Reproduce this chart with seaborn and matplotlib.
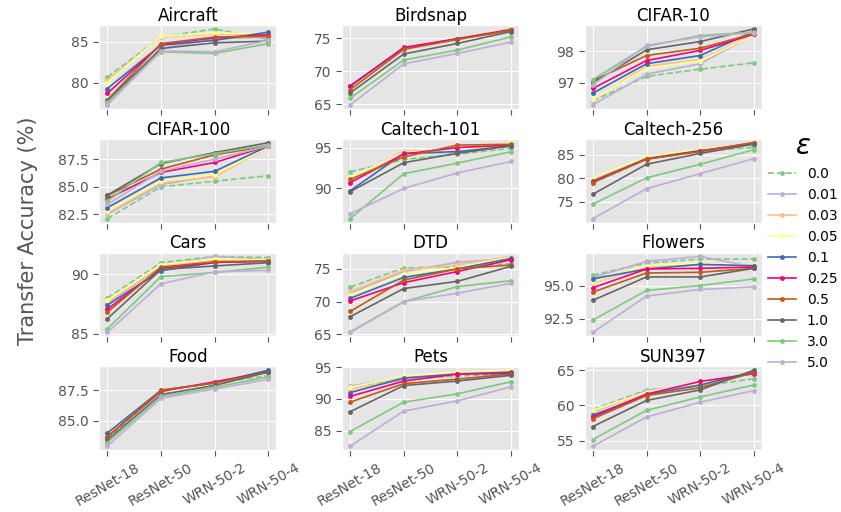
import matplotlib
matplotlib.use('Agg')
import matplotlib.pyplot as plt
from matplotlib.ticker import MaxNLocator
import seaborn as sns

# architectures on the x axis
models = ['ResNet-18', 'ResNet-50', 'WRN-50-2', 'WRN-50-4']

# robustness levels (one line each)
eps_labels = ['0.0', '0.01', '0.03', '0.05', '0.1', '0.25', '0.5', '1.0', '3.0', '5.0']
eps_colors = ['#7fc97f', '#beaed4', '#fdc086', '#ffff99', '#386cb0',
              '#f0027f', '#bf5b17', '#666666', '#7fc97f', '#beaed4']

datasets = ['Aircraft', 'Birdsnap', 'CIFAR-10', 'CIFAR-100', 'Caltech-101', 'Caltech-256',
            'Cars', 'DTD', 'Flowers', 'Food', 'Pets', 'SUN397']

# transfer accuracy, rows follow eps_labels, columns follow models
aircraft = [[80.7, 85.6, 86.6, 85.3], [77.4, 84.2, 85.4, 85.6], [80.3, 85.6, 86.0, 85.9],
            [80.0, 85.7, 86.1, 86.0], [79.3, 84.6, 85.2, 86.2], [78.7, 84.7, 85.5, 85.9],
            [77.9, 84.8, 85.6, 85.7], [77.8, 84.2, 84.9, 85.1], [77.6, 83.8, 83.6, 84.8],
            [77.3, 83.9, 83.8, 85.2]]
birdsnap = [[67.4, 73.3, 74.8, 76.2], [67.6, 73.4, 74.9, 76.3], [67.5, 73.3, 74.9, 76.4],
            [67.5, 73.3, 74.8, 76.3], [67.8, 73.5, 74.9, 76.2], [67.7, 73.6, 74.9, 76.3],
            [67.2, 73.3, 74.8, 76.2], [66.7, 72.6, 74.2, 76.0], [65.9, 71.7, 73.2, 75.2],
            [64.9, 71.1, 72.7, 74.4]]
cifar10 = [[96.43, 97.2, 97.43, 97.63], [96.3, 97.27, 97.6, 98.52], [96.45, 97.52, 97.73, 98.53],
           [96.48, 97.45, 97.69, 98.5], [96.67, 97.6, 97.86, 98.62], [96.82, 97.7, 98.02, 98.53],
           [97.06, 97.86, 98.09, 98.55], [97.0, 98.04, 98.3, 98.7], [97.1, 98.15, 98.49, 98.6],
           [96.93, 98.18, 98.45, 98.58]]
cifar100 = [[82.1, 85.0, 85.5, 86.0], [82.5, 85.2, 86.0, 88.6], [82.6, 85.4, 85.9, 88.6],
            [82.8, 85.5, 86.1, 88.6], [83.1, 85.8, 86.4, 88.7], [83.9, 86.3, 87.2, 88.7],
            [84.2, 86.6, 87.9, 88.7], [84.23, 87.1, 88.1, 89.0], [83.7, 87.2, 88.0, 88.8],
            [83.4, 86.4, 87.5, 88.7]]
caltech101 = [[92.05, 93.55, 94.2, 94.9], [91.0, 94.3, 94.4, 95.3], [91.0, 94.6, 94.5, 95.4],
              [91.3, 94.4, 94.5, 95.6], [89.7, 94.3, 94.5, 95.2], [90.7, 94.2, 95.0, 95.3],
              [91.1, 93.85, 95.3, 95.4], [89.6, 93.15, 94.3, 95.2], [86.3, 91.8, 93.1, 94.5],
              [86.9, 90.0, 91.9, 93.3]]
caltech256 = [[79.0, 84.1, 85.8, 86.6], [79.6, 84.2, 85.9, 87.3], [79.8, 84.3, 86.0, 87.3],
              [80.1, 84.6, 86.2, 87.4], [79.4, 84.2, 85.9, 87.3], [79.2, 84.1, 85.8, 87.6],
              [79.1, 84.1, 85.7, 87.6], [76.6, 83.0, 85.3, 87.3], [74.5, 80.1, 83.0, 86.1],
              [71.4, 77.8, 81.0, 84.2]]
cars = [[88.0, 90.97, 91.5, 91.4], [87.5, 90.7, 91.5, 91.2], [87.6, 90.8, 91.2, 91.1],
        [87.8, 90.8, 91.3, 91.2], [87.4, 90.3, 91.0, 91.1], [87.05, 90.5, 91.0, 91.1],
        [86.8, 90.6, 91.05, 91.1], [86.25, 90.4, 90.7, 90.97], [85.4, 89.8, 90.15, 90.6],
        [85.1, 89.2, 90.2, 90.33]]
dtd = [[72.2, 75.15, 75.3, 75.8], [71.3, 74.6, 76.0, 76.6], [71.5, 74.8, 75.6, 76.9],
       [71.0, 74.2, 75.2, 76.8], [70.5, 73.7, 75.0, 76.6], [70.1, 72.9, 74.6, 76.4],
       [68.5, 73.3, 75.0, 75.6], [67.7, 72.0, 73.1, 75.4], [65.3, 70.0, 72.3, 73.2],
       [65.4, 70.0, 71.3, 72.8]]
flowers = [[95.78, 96.7, 97.0, 97.0], [95.6, 96.83, 97.2, 96.4], [95.2, 96.4, 96.6, 96.5],
           [95.3, 96.5, 96.7, 96.5], [95.5, 96.25, 96.6, 96.5], [94.83, 96.25, 96.3, 96.4],
           [94.5, 95.95, 96.0, 96.3], [93.88, 95.65, 95.65, 96.3], [92.38, 94.63, 95.0, 95.5],
           [91.45, 94.2, 94.7, 94.9]]
food = [[83.5, 87.5, 88.1, 88.7], [83.8, 87.5, 88.1, 89.0], [83.8, 87.5, 88.1, 89.0],
        [83.9, 87.5, 88.1, 89.0], [83.98, 87.5, 88.1, 89.15], [83.7, 87.4, 88.2, 89.0],
        [83.65, 87.5, 88.1, 89.0], [83.4, 87.15, 87.9, 89.0], [83.2, 87.0, 87.75, 88.6],
        [82.9, 86.85, 87.6, 88.4]]
pets = [[91.96, 93.1, 93.6, 93.9], [92.0, 93.4, 94.0, 94.2], [91.6, 93.0, 94.0, 94.3],
        [91.8, 93.6, 94.2, 94.5], [91.0, 93.25, 93.9, 94.2], [90.4, 92.8, 93.9, 94.0],
        [89.5, 92.4, 93.1, 93.9], [88.0, 92.1, 92.8, 93.7], [84.9, 89.5, 90.8, 92.7],
        [82.6, 88.1, 89.7, 91.9]]
sun397 = [[59.4, 62.2, 62.7, 63.8], [59.0, 62.1, 62.8, 64.6], [59.1, 61.8, 63.2, 64.6],
          [59.3, 61.9, 63.2, 64.6], [58.6, 61.5, 62.9, 64.8], [58.35, 61.6, 63.4, 64.5],
          [58.1, 61.4, 62.5, 64.7], [57.0, 60.7, 62.2, 65.0], [55.15, 59.3, 61.2, 62.9],
          [54.2, 58.35, 60.45, 62.1]]

panels = [aircraft, birdsnap, cifar10, cifar100, caltech101, caltech256,
          cars, dtd, flowers, food, pets, sun397]

plt.style.use('ggplot')
fig, axes = plt.subplots(4, 3, figsize=(8.41, 5.12), dpi=100, sharex=True)
fig.subplots_adjust(left=0.118, right=0.906, top=0.951, bottom=0.121, wspace=0.37, hspace=0.36)

for ax, name, vals in zip(axes.flat, datasets, panels):
    for i, eps in enumerate(eps_labels):
        sns.lineplot(x=models, y=vals[i], ax=ax, color=eps_colors[i], sort=False,
                     linestyle='--' if eps == '0.0' else '-', marker='o', markersize=3.5,
                     markeredgewidth=0, linewidth=1.2, label=eps, legend=False)
    ax.set_title(name, fontsize=12, pad=3)
    ax.set_xlabel('')
    ax.set_ylabel('')
    ax.yaxis.set_major_locator(MaxNLocator(nbins=2, steps=[1, 2, 2.5, 5, 10]))
    ax.tick_params(labelsize=10, length=4, color='#555555')
    if ax.get_legend() is not None:
        ax.get_legend().remove()

for ax in axes[-1]:
    ax.tick_params(axis='x', labelrotation=30, labelsize=10)

fig.text(0.033, 0.55, 'Transfer Accuracy (%)', rotation=90, va='center', ha='center',
         fontsize=15, color='#555555')

handles, labels = axes[0, 0].get_legend_handles_labels()
fig.legend(handles, labels, title=r'$\varepsilon$', loc='center left',
           bbox_to_anchor=(0.903, 0.51), frameon=False, fontsize=10, title_fontsize=20,
           handlelength=2.0, handletextpad=0.8, labelspacing=0.5, borderaxespad=0.2)

fig.savefig('out.png', dpi=100)
